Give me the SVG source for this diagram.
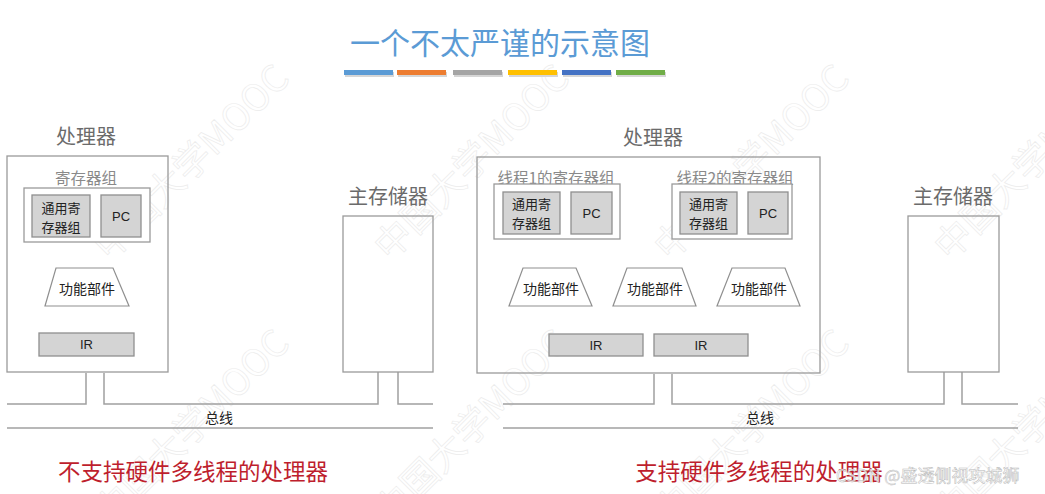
<svg xmlns="http://www.w3.org/2000/svg" width="1045" height="494" viewBox="0 0 1045 494">
<defs>
<style>
.cjk{font-family:"Noto Sans CJK SC","Noto Sans",sans-serif;}
.lat{font-family:"Liberation Sans","Noto Sans CJK SC",sans-serif;}
.box{fill:#fff;stroke:#9a9a9a;stroke-width:1.3;}
.reg{fill:#d4d4d4;stroke:#8f8f8f;stroke-width:1.3;}
.trap{fill:#fff;stroke:#8f8f8f;stroke-width:1.2;}
.head{font-size:20px;fill:#6b6b6b;text-anchor:middle;dominant-baseline:central;}
.sub{font-size:15.5px;fill:#8a8a8a;text-anchor:middle;dominant-baseline:central;}
.small{font-size:13px;fill:#222;text-anchor:middle;dominant-baseline:central;}
.fu{font-size:14px;fill:#222;text-anchor:middle;dominant-baseline:central;}
.bus{stroke:#a0a0a0;stroke-width:1.5;fill:none;}
.cap{font-size:22.5px;fill:#be1e2d;text-anchor:middle;dominant-baseline:central;}
.wm{font-size:37px;fill:none;stroke:#ececec;stroke-width:0.7;}
</style>
</defs>
<rect width="1045" height="494" fill="#fff"/>

<g id="watermarks" class="cjk">
<text class="wm" transform="translate(110,262) rotate(-45)">中国大学MOOC</text>
<text class="wm" transform="translate(390,262) rotate(-45)">中国大学MOOC</text>
<text class="wm" transform="translate(670,262) rotate(-45)">中国大学MOOC</text>
<text class="wm" transform="translate(950,262) rotate(-45)">中国大学MOOC</text>
<text class="wm" transform="translate(110,527) rotate(-45)">中国大学MOOC</text>
<text class="wm" transform="translate(390,527) rotate(-45)">中国大学MOOC</text>
<text class="wm" transform="translate(670,527) rotate(-45)">中国大学MOOC</text>
<text class="wm" transform="translate(950,527) rotate(-45)">中国大学MOOC</text>
</g>

<g id="title">
<text class="cjk" x="500" y="41" font-size="30" fill="#5b9bd5" text-anchor="middle" dominant-baseline="central">一个不太严谨的示意图</text>
<g id="colorbar">
<rect x="345" y="72" width="49" height="5" fill="#d6d6d6"/>
<rect x="398" y="72" width="49" height="5" fill="#d6d6d6"/>
<rect x="454" y="72" width="49" height="5" fill="#d6d6d6"/>
<rect x="509" y="72" width="49" height="5" fill="#d6d6d6"/>
<rect x="563" y="72" width="49" height="5" fill="#d6d6d6"/>
<rect x="617" y="72" width="49" height="5" fill="#d6d6d6"/>
<rect x="344" y="70" width="49" height="5" fill="#5b9bd5"/>
<rect x="397" y="70" width="49" height="5" fill="#ed7d31"/>
<rect x="453" y="70" width="49" height="5" fill="#a5a5a5"/>
<rect x="508" y="70" width="49" height="5" fill="#ffc000"/>
<rect x="562" y="70" width="49" height="5" fill="#4472c4"/>
<rect x="616" y="70" width="49" height="5" fill="#70ad47"/>
</g>
</g>

<g id="connectors">
<polyline class="bus" points="7,404 86,404 86,373"/>
<polyline class="bus" points="104,373 104,404 378,404 378,372"/>
<polyline class="bus" points="398,372 398,404 433,404"/>
<line class="bus" x1="7" y1="428" x2="433" y2="428"/>
<polyline class="bus" points="503,404 654,404 654,374"/>
<polyline class="bus" points="672,374 672,404 944,404 944,372"/>
<polyline class="bus" points="962,372 962,404 1018,404"/>
<line class="bus" x1="503" y1="428" x2="1018" y2="428"/>
</g>

<g id="left-processor">
<text class="cjk head" x="86" y="135">处理器</text>
<rect class="box" x="7" y="156" width="161" height="216" fill-opacity="0"/>
<text class="cjk sub" x="86" y="177">寄存器组</text>
<rect class="box" x="24" y="188" width="126" height="54"/>
<rect class="reg" x="32" y="195" width="58" height="42"/>
<text class="cjk small" x="61" y="207">通用寄</text>
<text class="cjk small" x="61" y="226">存器组</text>
<rect class="reg" x="101" y="195" width="40" height="42"/>
<text class="lat small" x="121" y="216">PC</text>
<polygon class="trap" points="56,268 113,268 129,306 45,306"/>
<text class="cjk fu" x="87" y="288">功能部件</text>
<rect class="reg" x="39" y="333" width="95" height="23"/>
<text class="lat small" x="86.5" y="344.5">IR</text>
</g>

<g id="left-memory">
<text class="cjk head" x="388" y="195">主存储器</text>
<rect class="box" x="343" y="216" width="90" height="156" fill-opacity="0"/>
</g>

<g id="left-bus-label">
<text class="cjk fu" x="219" y="417">总线</text>
</g>

<g id="left-caption">
<text class="cjk cap" x="193" y="470">不支持硬件多线程的处理器</text>
</g>

<g id="right-processor">
<text class="cjk head" x="653" y="136">处理器</text>
<rect class="box" x="477" y="157" width="343" height="216" fill-opacity="0"/>
<text class="cjk sub" x="556" y="177" font-size="16.5">线程1的寄存器组</text>
<rect class="box" x="494" y="184" width="126" height="55"/>
<rect class="reg" x="503" y="192" width="57" height="42"/>
<text class="cjk small" x="531.5" y="203">通用寄</text>
<text class="cjk small" x="531.5" y="222">存器组</text>
<rect class="reg" x="571" y="192" width="41" height="42"/>
<text class="lat small" x="591.5" y="213">PC</text>
<text class="cjk sub" x="735" y="177" font-size="16.5">线程2的寄存器组</text>
<rect class="box" x="672" y="184" width="120" height="55"/>
<rect class="reg" x="680" y="192" width="57" height="42"/>
<text class="cjk small" x="708.5" y="203">通用寄</text>
<text class="cjk small" x="708.5" y="222">存器组</text>
<rect class="reg" x="748" y="192" width="40" height="42"/>
<text class="lat small" x="768" y="213">PC</text>
<polygon class="trap" points="523,268 576,268 592,306 509,306"/>
<text class="cjk fu" x="551" y="288">功能部件</text>
<polygon class="trap" points="627,268 682,268 696,306 613,306"/>
<text class="cjk fu" x="655" y="288">功能部件</text>
<polygon class="trap" points="732,268 785,268 800,306 717,306"/>
<text class="cjk fu" x="759" y="288">功能部件</text>
<rect class="reg" x="549" y="334" width="94" height="22"/>
<text class="lat small" x="596" y="345">IR</text>
<rect class="reg" x="654" y="334" width="94" height="22"/>
<text class="lat small" x="701" y="345">IR</text>
</g>

<g id="right-memory">
<text class="cjk head" x="953" y="195">主存储器</text>
<rect class="box" x="908" y="216" width="91" height="156" fill-opacity="0"/>
</g>

<g id="right-bus-label">
<text class="cjk fu" x="760" y="417">总线</text>
</g>

<g id="right-caption">
<text class="cjk cap" x="759" y="470">支持硬件多线程的处理器</text>
</g>

<g id="csdn-mark">
<text class="cjk" x="836" y="474" font-size="17" fill="#ffffff" fill-opacity="0.75" stroke="#b8b8b8" stroke-width="0.5" dominant-baseline="central">CSDN @盛透侧视攻城狮</text>
</g>
</svg>
